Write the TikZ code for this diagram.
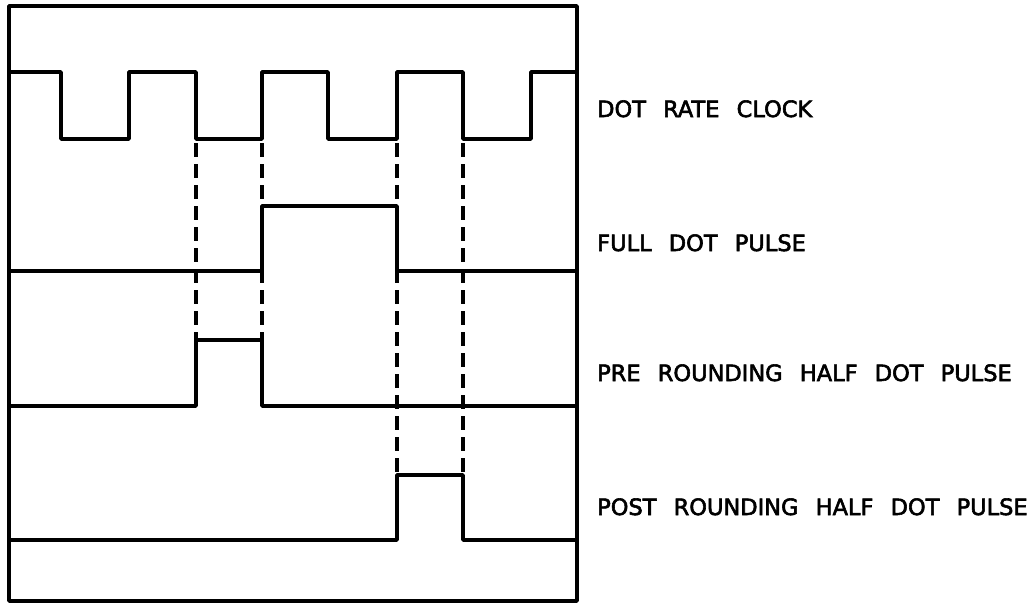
\documentclass[tikz,border=0pt]{standalone}
\usepackage{fontspec}
\newfontfamily\lblfont{DejaVu Sans}[WordSpace=2.4,FakeBold=2.6]
\begin{document}
\begin{tikzpicture}[x=1pt,y=-1pt,
  wave/.style={line width=3.6pt,line join=round,line cap=round},
  frame/.style={line width=3.6pt,line join=round},
  guide/.style={line width=3.2pt,dash pattern=on 14pt off 7pt},
  lbl/.style={anchor=base west,inner sep=0pt,font=\lblfont\fontsize{22.5}{26}\selectfont}]
\useasboundingbox (0,0) rectangle (1030,603);
% frame
\draw[frame] (9,6) rectangle (577,601);
% dashed guides
\draw[guide] (196,143) -- (196,340);
\draw[guide] (262,143) -- (262,340);
\draw[guide] (397,143) -- (397,475);
\draw[guide] (463,143) -- (463,475);
% dot rate clock
\draw[wave] (9,72) -- (61,72) -- (61,139) -- (129,139) -- (129,72) -- (196,72) -- (196,139)
  -- (262,139) -- (262,72) -- (328,72) -- (328,139) -- (397,139) -- (397,72) -- (463,72)
  -- (463,139) -- (531,139) -- (531,72) -- (577,72);
% full dot pulse
\draw[wave] (9,271) -- (262,271) -- (262,206) -- (397,206) -- (397,271) -- (577,271);
% pre rounding half dot pulse
\draw[wave] (9,406) -- (196,406) -- (196,340) -- (262,340) -- (262,406) -- (577,406);
% post rounding half dot pulse
\draw[wave] (9,540) -- (397,540) -- (397,475) -- (463,475) -- (463,540) -- (577,540);
% labels
\node[lbl] (l1) at (597,117) {DOT RATE CLOCK};
\node[lbl] (l2) at (597,251) {FULL DOT PULSE};
\node[lbl] (l3) at (597,381) {PRE ROUNDING HALF DOT PULSE};
\node[lbl] (l4) at (597,515) {POST ROUNDING HALF DOT PULSE};
\end{tikzpicture}
\end{document}
